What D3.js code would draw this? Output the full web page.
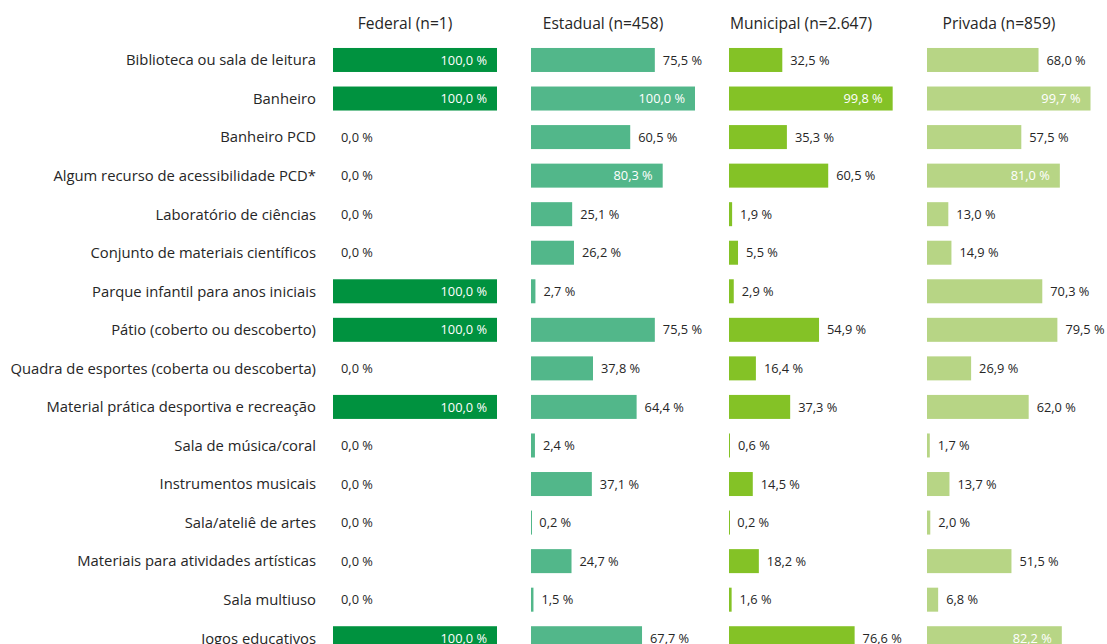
<!DOCTYPE html>
<html>
<head>
<meta charset="utf-8">
<script src="https://cdn.jsdelivr.net/npm/d3@7"></script>
<style>
  html, body { margin: 0; padding: 0; background: #fff; }
  svg { display: block; }
  text { font-family: "Open Sans", "Noto Sans", sans-serif; fill: #262626; }
</style>
</head>
<body>
<svg id="chart" width="1107" height="644"></svg>
<script>
// Infrastructure items (rows)
const categories = [
  "Biblioteca ou sala de leitura",
  "Banheiro",
  "Banheiro PCD",
  "Algum recurso de acessibilidade PCD*",
  "Laboratório de ciências",
  "Conjunto de materiais científicos",
  "Parque infantil para anos iniciais",
  "Pátio (coberto ou descoberto)",
  "Quadra de esportes (coberta ou descoberta)",
  "Material prática desportiva e recreação",
  "Sala de música/coral",
  "Instrumentos musicais",
  "Sala/ateliê de artes",
  "Materiais para atividades artísticas",
  "Sala multiuso",
  "Jogos educativos"
];

// Network titles (panels)
const series = ["Federal (n=1)", "Estadual (n=458)", "Municipal (n=2.647)", "Privada (n=859)"];

// Percentage of schools per network
const federal   = [100, 100, 0, 0, 0, 0, 100, 100, 0, 100, 0, 0, 0, 0, 0, 100];
const estadual  = [75.5, 100, 60.5, 80.3, 25.1, 26.2, 2.7, 75.5, 37.8, 64.4, 2.4, 37.1, 0.2, 24.7, 1.5, 67.7];
const municipal = [32.5, 99.8, 35.3, 60.5, 1.9, 5.5, 2.9, 54.9, 16.4, 37.3, 0.6, 14.5, 0.2, 18.2, 1.6, 76.6];
const privada   = [68.0, 99.7, 57.5, 81.0, 13.0, 14.9, 70.3, 79.5, 26.9, 62.0, 1.7, 13.7, 2.0, 51.5, 6.8, 82.2];

const values = [federal, estadual, municipal, privada];
const colors = ["#00923f", "#52b78a", "#84c226", "#b7d585"];

const svg = d3.select("#chart");

// Row positions
const step = 38.55;
const y = d3.scaleBand()
  .domain(categories)
  .range([40.7, 40.7 + categories.length * step])
  .paddingInner(0.3774)
  .paddingOuter(0.1887);

// Panel origins
const panelX = d3.scalePoint()
  .domain(series)
  .range([333, 927]);

// Bar length within a panel
const x = d3.scaleLinear().domain([0, 100]).range([0, 164]);

const fmt = v => d3.format(".1f")(v).replace(".", ",") + " %";

// Row labels
svg.append("g")
  .selectAll("text")
  .data(categories)
  .join("text")
  .attr("x", 316)
  .attr("y", d => y(d) + y.bandwidth() / 2)
  .attr("dy", "0.36em")
  .attr("text-anchor", "end")
  .style("font-size", "14.8px")
  .text(d => d);

series.forEach((s, si) => {
  const g = svg.append("g").attr("transform", `translate(${panelX(s)},0)`);

  // Panel title
  g.append("text")
    .attr("x", 72)
    .attr("y", 29)
    .attr("text-anchor", "middle")
    .style("font-size", "15.6px")
    .text(s);

  const rows = categories.map((c, i) => ({ c, v: values[si][i] }));

  // Bars
  g.selectAll("rect")
    .data(rows)
    .join("rect")
    .attr("x", x(0))
    .attr("y", d => y(d.c))
    .attr("width", d => Math.max(x(d.v), d.v > 0 ? 1 : 0))
    .attr("height", y.bandwidth())
    .attr("fill", colors[si]);

  // Value labels: inside long bars, outside short ones
  g.selectAll("text.val")
    .data(rows)
    .join("text")
    .attr("class", "val")
    .attr("x", d => d.v >= 80 ? x(d.v) - 10 : x(d.v) + 8)
    .attr("y", d => y(d.c) + y.bandwidth() / 2)
    .attr("dy", "0.36em")
    .attr("text-anchor", d => d.v >= 80 ? "end" : "start")
    .style("font-size", "12.8px")
    .style("fill", d => d.v >= 80 ? "#ffffff" : "#262626")
    .text(d => fmt(d.v));
});
</script>
</body>
</html>
